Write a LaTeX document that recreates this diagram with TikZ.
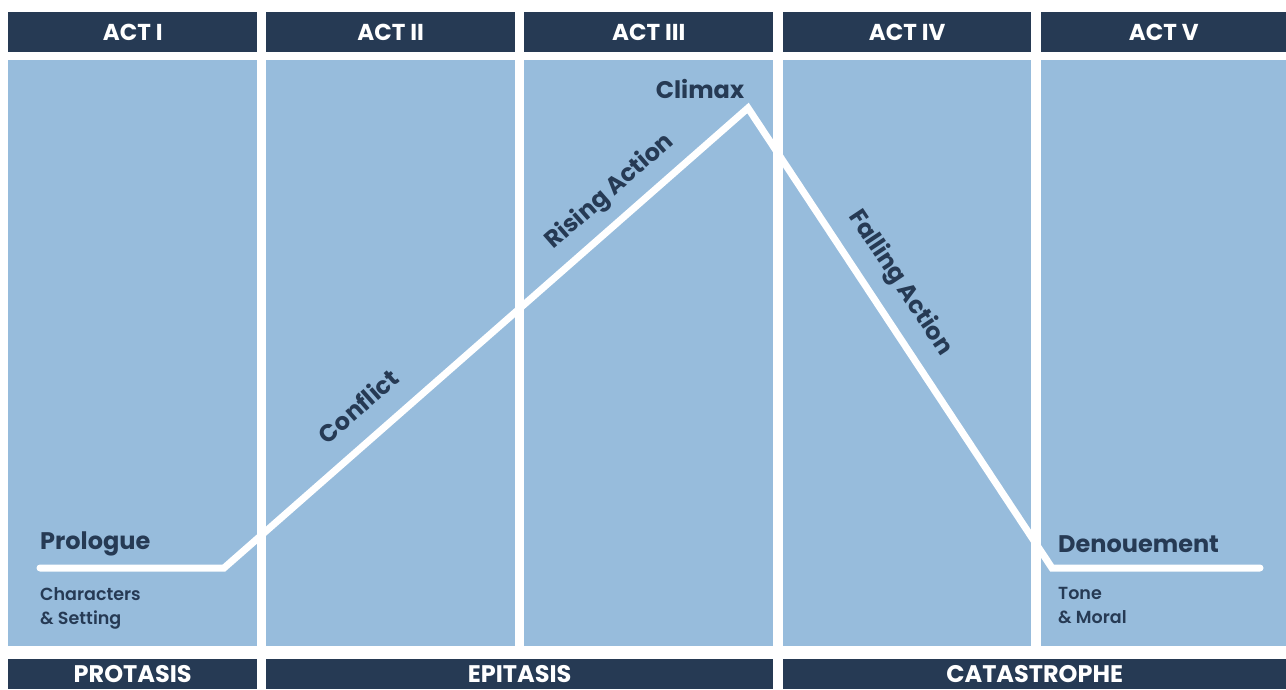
\documentclass[tikz,border=0pt]{standalone}
\usepackage{fontspec}
\setmainfont{Poppins}
\newfontfamily\notefont{Poppins SemiBold}
\usetikzlibrary{positioning}

\definecolor{actnavy}{RGB}{38,58,84}
\definecolor{actblue}{RGB}{151,188,220}

\begin{document}
\begin{tikzpicture}[x=1pt,y=-1pt,
    bar/.style={fill=actnavy,text=white,font=\bfseries\fontsize{23}{23}\selectfont,
        inner sep=0pt,anchor=north west,minimum height=40pt},
    footbar/.style={bar,font=\bfseries\fontsize{24}{24}\selectfont,minimum height=30pt},
    panel/.style={fill=actblue,inner sep=0pt,anchor=north west,minimum height=586pt},
    stagetext/.style={text=actnavy,font=\bfseries\fontsize{24}{24}\selectfont,inner sep=0pt},
    notetext/.style={text=actnavy,font=\notefont\fontsize{17.5}{24}\selectfont,inner sep=0pt,align=left}]
\useasboundingbox (0,0) rectangle (1286,689);

    % Acts: headers and panels
    \node [bar,minimum width=249pt] (act1) at (8,12)    {ACT I};
    \node [bar,minimum width=249pt] (act2) at (266,12)  {ACT II};
    \node [bar,minimum width=249pt] (act3) at (524,12)  {ACT III};
    \node [bar,minimum width=248pt] (act4) at (783,12)  {ACT IV};
    \node [bar,minimum width=245pt] (act5) at (1041,12) {ACT V};

    \node [panel,minimum width=249pt] (panel1) at (8,60)    {};
    \node [panel,minimum width=249pt] (panel2) at (266,60)  {};
    \node [panel,minimum width=249pt] (panel3) at (524,60)  {};
    \node [panel,minimum width=248pt] (panel4) at (783,60)  {};
    \node [panel,minimum width=245pt] (panel5) at (1041,60) {};

    % Parts along the bottom
    \node [footbar,minimum width=249pt] (protasis)    at (8,659)   {PROTASIS};
    \node [footbar,minimum width=507pt] (epitasis)    at (266,659) {EPITASIS};
    \node [footbar,minimum width=503pt] (catastrophe) at (783,659) {CATASTROPHE};

    % Plot line
    \coordinate (start)  at (40,568);
    \coordinate (rise)   at (224,568);
    \coordinate (peak)   at (748,108);
    \coordinate (fall)   at (1052,568);
    \coordinate (finish) at (1260,568);
    \draw [white,line width=7pt,line cap=round,line join=miter]
        (start) -- (rise) -- (peak) -- (fall) -- (finish);

    % Stage labels
    \node [stagetext,anchor=base west] (prologue) at (40,549) {Prologue};
    \node [notetext,anchor=base west] (setting) at (40,624) {Characters\\\& Setting};
    \node [stagetext,rotate=41.3] (conflict) at (358,406) {Conflict};
    \node [stagetext,rotate=41.3] (rising) at (610,192) {Rising Action};
    \node [stagetext,anchor=base] (climax) at (700,98) {Climax};
    \node [stagetext,rotate=-56.5] (falling) at (900,283) {Falling Action};
    \node [stagetext,anchor=base west] (denouement) at (1058,552) {Denouement};
    \node [notetext,anchor=base west] (moral) at (1058,623) {Tone\\\& Moral};
\end{tikzpicture}
\end{document}
